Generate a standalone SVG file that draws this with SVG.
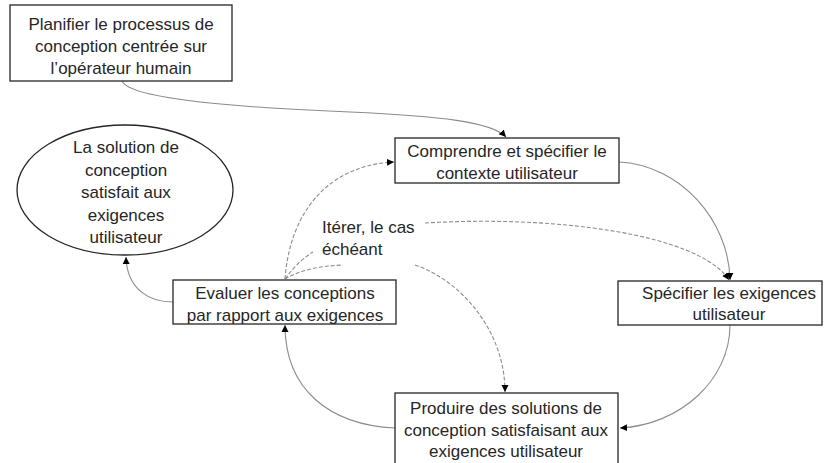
<svg xmlns="http://www.w3.org/2000/svg" width="830" height="463" viewBox="0 0 830 463">
<style>
.box{fill:#fff;stroke:#262626;stroke-width:1.3}
.t{font-family:"Liberation Sans",Arial,sans-serif;font-size:17px;fill:#262626;text-anchor:middle}
.tl{font-family:"Liberation Sans",Arial,sans-serif;font-size:17px;fill:#262626}
.c{fill:none;stroke:#8c8c8c;stroke-width:1.1}
.d{fill:none;stroke:#8c8c8c;stroke-width:1.1;stroke-dasharray:4 2}
</style>
<defs>
<marker id="ah" markerUnits="userSpaceOnUse" markerWidth="8" markerHeight="8" refX="7" refY="4" orient="auto">
<path d="M0,0.5 L7,4 L0,7.5 Z" fill="#000"/>
</marker>
</defs>
<rect width="830" height="463" fill="#fff"/>
<g id="connectors">
<path class="c" d="M122,81 C130,100 250,108 350,112 C440,116 492,122 506,137" marker-end="url(#ah)"/>
<path class="c" d="M619,162 C680,165 729,220 730,280" marker-end="url(#ah)"/>
<path class="c" d="M730,325 C730,380 680,425 620,428" marker-end="url(#ah)"/>
<path class="c" d="M395,428 C330,425 285,390 285,325" marker-end="url(#ah)"/>
<path class="c" d="M173,302 C150,302 127,290 126,257" marker-end="url(#ah)"/>
<path class="d" d="M285,279 C290,210 330,165 394,162" marker-end="url(#ah)"/>
<path class="d" d="M285,279 C295,265 305,257 313,252"/>
<path class="d" d="M285,279 C300,270 320,266 343,265"/>
<path class="d" d="M425,223 C560,215 700,235 729,280" marker-end="url(#ah)"/>
<path class="d" d="M415,265 C460,280 505,330 505,392" marker-end="url(#ah)"/>
</g>
<g id="n-planifier">
<rect class="box" x="10" y="5" width="222" height="76"/>
<text class="t" x="121" y="30">Planifier le processus de</text>
<text class="t" x="121" y="52">conception centrée sur</text>
<text class="t" x="121" y="74">l’opérateur humain</text>
</g>
<g id="n-comprendre">
<rect class="box" x="395" y="138" width="224" height="45"/>
<text class="t" x="507" y="157">Comprendre et spécifier le</text>
<text class="t" x="507" y="179">contexte utilisateur</text>
</g>
<g id="n-solution">
<ellipse class="box" cx="125" cy="190" rx="108" ry="65"/>
<text class="t" x="126" y="153">La solution de</text>
<text class="t" x="126" y="176">conception</text>
<text class="t" x="126" y="198">satisfait aux</text>
<text class="t" x="126" y="221">exigences</text>
<text class="t" x="126" y="243">utilisateur</text>
</g>
<g id="n-evaluer">
<rect class="box" x="173" y="280" width="223" height="44"/>
<text class="t" x="285" y="299">Evaluer les conceptions</text>
<text class="t" x="285" y="321">par rapport aux exigences</text>
</g>
<g id="n-specifier">
<rect class="box" x="618" y="281" width="204" height="44"/>
<text class="t" x="729" y="299">Spécifier les exigences</text>
<text class="t" x="729" y="320">utilisateur</text>
</g>
<g id="n-produire">
<rect class="box" x="395" y="393" width="223" height="80"/>
<text class="t" x="506" y="414">Produire des solutions de</text>
<text class="t" x="506" y="436">conception satisfaisant aux</text>
<text class="t" x="506" y="457">exigences utilisateur</text>
</g>
<g id="label-iterer">
<text class="tl" x="322" y="233">Itérer, le cas</text>
<text class="tl" x="322" y="255">échéant</text>
</g>
</svg>
